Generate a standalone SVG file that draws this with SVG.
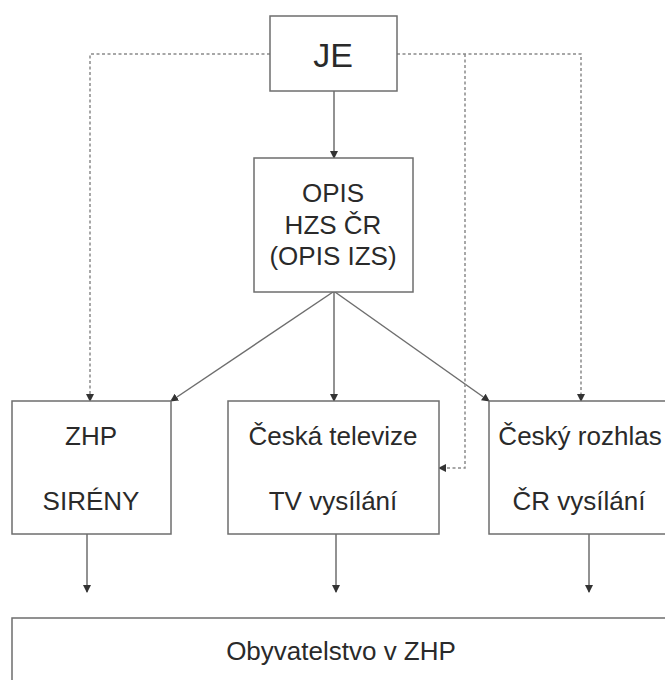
<svg xmlns="http://www.w3.org/2000/svg" width="665" height="680" viewBox="0 0 665 680">
<style>
.box{fill:#fff;stroke:#6e6e6e;stroke-width:1.5}
.t{font-family:"Liberation Sans",Arial,sans-serif;font-size:26px;fill:#2a2a2a;text-anchor:middle}
.solid{fill:none;stroke:#6e6e6e;stroke-width:1.5}
.dot{fill:none;stroke:#8a8a8a;stroke-width:1.5;stroke-dasharray:3 2.5}
</style>
<defs>
<marker id="ah" markerWidth="8" markerHeight="8" refX="7" refY="4" orient="auto" markerUnits="userSpaceOnUse">
<path d="M0,0 L8,4 L0,8 Z" fill="#333"/>
</marker>
</defs>
<g id="connectors">
<line class="solid" x1="334" y1="91" x2="334" y2="158" marker-end="url(#ah)"/>
<line class="solid" x1="333" y1="292" x2="171" y2="401" marker-end="url(#ah)"/>
<line class="solid" x1="334" y1="292" x2="334" y2="401" marker-end="url(#ah)"/>
<line class="solid" x1="335" y1="292" x2="489" y2="401" marker-end="url(#ah)"/>
<polyline class="dot" points="270,54 90,54 90,401" marker-end="url(#ah)"/>
<polyline class="dot" points="397,54 581,54 581,401" marker-end="url(#ah)"/>
<polyline class="dot" points="465,54 465,468 439,468" marker-end="url(#ah)"/>
<line class="solid" x1="87" y1="534" x2="87" y2="592" marker-end="url(#ah)"/>
<line class="solid" x1="336" y1="534" x2="336" y2="592" marker-end="url(#ah)"/>
<line class="solid" x1="589" y1="534" x2="589" y2="592" marker-end="url(#ah)"/>
</g>
<g id="je">
<rect class="box" x="270" y="16" width="127" height="75"/>
<text class="t" x="333" y="67" style="font-size:34px">JE</text>
</g>
<g id="opis">
<rect class="box" x="254" y="158" width="159" height="134"/>
<text class="t" x="333" y="202">OPIS</text>
<text class="t" x="333" y="234">HZS ČR</text>
<text class="t" x="333" y="265">(OPIS IZS)</text>
</g>
<g id="zhp">
<rect class="box" x="12" y="401" width="159" height="133"/>
<text class="t" x="91" y="445">ZHP</text>
<text class="t" x="91" y="510">SIRÉNY</text>
</g>
<g id="ct">
<rect class="box" x="228" y="401" width="211" height="133"/>
<text class="t" x="333" y="445">Česká televize</text>
<text class="t" x="333" y="510">TV vysílání</text>
</g>
<g id="cr">
<rect class="box" x="489" y="401" width="180" height="133"/>
<text class="t" x="580" y="445">Český rozhlas</text>
<text class="t" x="579" y="510">ČR vysílání</text>
</g>
<g id="obyv">
<rect class="box" x="12" y="618" width="660" height="80"/>
<text class="t" x="341" y="660">Obyvatelstvo v ZHP</text>
</g>
</svg>
